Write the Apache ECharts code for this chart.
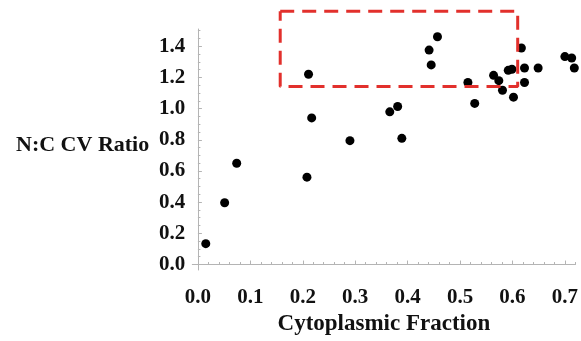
<!DOCTYPE html>
<html>
<head>
<meta charset="utf-8">
<script src="https://cdn.jsdelivr.net/npm/echarts@6/dist/echarts.min.js"></script>
<style>
  html, body { margin: 0; padding: 0; background: #ffffff; }
  #chart { width: 581px; height: 341px; }
</style>
</head>
<body>
<div id="chart"></div>
<script>
// Measured cells: cytoplasmic fraction vs. N:C CV ratio
const cytoplasmicFraction = [
  0.015, 0.051, 0.074, 0.208, 0.211, 0.217, 0.290, 0.366, 0.381, 0.389,
  0.441, 0.445, 0.457, 0.515, 0.528, 0.564, 0.574, 0.581, 0.592, 0.599,
  0.602, 0.617, 0.623, 0.623, 0.649, 0.700, 0.713, 0.718
];
const ncCvRatio = [
  0.134, 0.396, 0.649, 0.560, 1.220, 0.940, 0.794, 0.979, 1.013, 0.809,
  1.375, 1.280, 1.460, 1.167, 1.033, 1.213, 1.179, 1.117, 1.245, 1.252,
  1.073, 1.388, 1.260, 1.167, 1.260, 1.333, 1.324, 1.260
];

// Highlighted region (data units)
const boxX = [0.157, 0.610, 0.610, 0.157, 0.157];
const boxY = [1.624, 1.624, 1.141, 1.141, 1.624];

// Tick labels
const xTickLabels = [0.0, 0.1, 0.2, 0.3, 0.4, 0.5, 0.6, 0.7];
const yTickLabels = [0.0, 0.2, 0.4, 0.6, 0.8, 1.0, 1.2, 1.4];

// Minor tick positions
const xMinor = [];
for (let i = 1; i <= 36; i++) if (i % 5 !== 0) xMinor.push(+(i * 0.02).toFixed(2));
const yMinor = [];
for (let i = 1; i <= 30; i++) if (i % 4 !== 0) yMinor.push(+(i * 0.05).toFixed(2));

// Axis ranges (the x axis runs to the right edge of the canvas)
const X_MIN = -0.0107, X_MAX = 0.7203;
const Y_MIN = -0.035, Y_MAX = 1.51;

const FONT = '"Liberation Serif", "Times New Roman", serif';
const AXIS_GRAY = '#b4b4b4';

const scatterData = cytoplasmicFraction.map((x, i) => [x, ncCvRatio[i]]);
const boxData = boxX.map((x, i) => [x, boxY[i]]);

const labelStyle = {
  fontFamily: FONT, fontWeight: 'bold', fontSize: 21, color: '#111'
};

const chart = echarts.init(document.getElementById('chart'), null, { renderer: 'canvas' });
chart.setOption({
  animation: false,
  backgroundColor: '#ffffff',
  grid: { left: 192.3, top: 29, right: 0, height: 242.5, containLabel: false },
  title: {
    text: 'N:C CV Ratio',
    left: 11, top: 129,
    textStyle: { fontFamily: FONT, fontWeight: 'bold', fontSize: 22, color: '#111' }
  },
  xAxis: [
    {
      type: 'value', min: X_MIN, max: X_MAX,
      name: 'Cytoplasmic Fraction', nameLocation: 'middle', nameGap: 43,
      nameTextStyle: { fontFamily: FONT, fontWeight: 'bold', fontSize: 23, color: '#111' },
      axisLine: { show: true, lineStyle: { color: AXIS_GRAY, width: 1 } },
      axisTick: { show: true, inside: true, length: 4, customValues: xTickLabels,
        lineStyle: { color: AXIS_GRAY } },
      axisLabel: Object.assign({ show: true, margin: 17, customValues: xTickLabels,
        formatter: v => v.toFixed(1) }, labelStyle),
      splitLine: { show: false }
    },
    {
      type: 'value', min: X_MIN, max: X_MAX, position: 'bottom',
      axisLine: { show: false },
      axisTick: { show: true, inside: true, length: 2.5, customValues: xMinor,
        lineStyle: { color: AXIS_GRAY } },
      axisLabel: { show: false },
      splitLine: { show: false }
    }
  ],
  yAxis: [
    {
      type: 'value', min: Y_MIN, max: Y_MAX,
      axisLine: { show: true, lineStyle: { color: AXIS_GRAY, width: 1 } },
      axisTick: { show: true, inside: true, length: 4, customValues: yTickLabels,
        lineStyle: { color: AXIS_GRAY } },
      axisLabel: Object.assign({ show: true, margin: 7, customValues: yTickLabels,
        formatter: v => v.toFixed(1) }, labelStyle),
      splitLine: { show: false }
    },
    {
      type: 'value', min: Y_MIN, max: Y_MAX, position: 'left',
      axisLine: { show: false },
      axisTick: { show: true, inside: true, length: 2.5, customValues: yMinor,
        lineStyle: { color: AXIS_GRAY } },
      axisLabel: { show: false },
      splitLine: { show: false }
    }
  ],
  series: [
    {
      type: 'scatter',
      xAxisIndex: 0, yAxisIndex: 0,
      data: scatterData,
      symbol: 'circle',
      symbolSize: 9,
      clip: false,
      itemStyle: { color: '#000000', opacity: 1 }
    },
    {
      type: 'line',
      xAxisIndex: 0, yAxisIndex: 0,
      data: boxData,
      clip: false,
      symbol: 'none',
      silent: true,
      lineStyle: { color: '#e2302c', width: 3, type: [14, 8] },
      z: 3
    }
  ]
});
</script>
</body>
</html>
